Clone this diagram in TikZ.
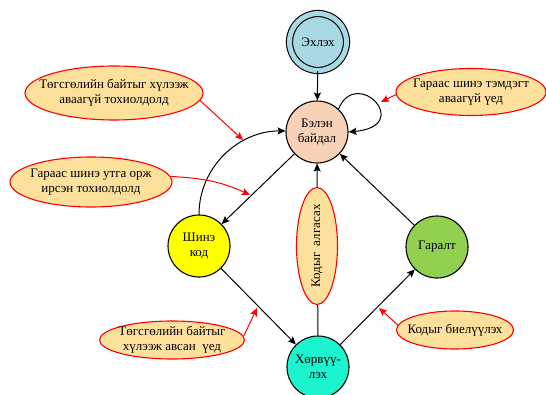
\documentclass[tikz,border=0pt]{standalone}
\usepackage{fontspec}
\setmainfont{Liberation Serif}
\usetikzlibrary{arrows.meta,shapes.geometric}

\definecolor{startblue}{HTML}{A8D8E4}
\definecolor{readypeach}{HTML}{F8D2B6}
\definecolor{newyellow}{HTML}{FFFF00}
\definecolor{convcyan}{HTML}{1CF4CF}
\definecolor{outgreen}{HTML}{92D050}
\definecolor{notefill}{HTML}{FDE09C}

\tikzset{
  statenode/.style={circle, draw=black, line width=1.1pt, minimum size=62pt,
    inner sep=0pt, align=center, font=\fontsize{13}{15}\selectfont},
  noteshape/.style={ellipse, draw=red, line width=1.1pt, fill=notefill, inner sep=0pt},
  notetext/.style={align=center, inner sep=0pt, font=\fontsize{13}{15}\selectfont},
  flow/.style={-{Stealth[length=8pt,width=7pt,inset=1.5pt]}, line width=1pt, black},
  cue/.style={-{Stealth[length=8pt,width=7pt,inset=1.5pt]}, line width=1pt, red},
}

\begin{document}
\begin{tikzpicture}[x=1pt,y=1pt]
  \useasboundingbox (0,0) rectangle (546,394);

  % states
  \node[statenode, fill=startblue, double=startblue, double distance=5pt,
        minimum size=57pt] (start) at (318,352) {Эхлэх};
  \node[statenode, fill=readypeach] (belen) at (317,262) {Бэлэн\\байдал};
  \node[statenode, fill=newyellow] (shine) at (199,148) {Шинэ\\код};
  \node[statenode, fill=convcyan] (horvuu) at (318,27) {Хөрвүү-\\лэх};
  \node[statenode, fill=outgreen] (garalt) at (437,147) {Гаралт};

  % transitions
  \draw[flow] (start) -- (belen);
  \draw[flow] (belen) -- (shine);
  \draw[flow] (shine.north) to[out=90,in=180] (belen.178);
  \draw[flow] (shine) -- (horvuu);
  \draw[flow] (horvuu) -- (garalt);
  \draw[flow] (garalt) -- (belen);
  \draw[flow] (horvuu) -- (belen);
  \draw[flow] (belen.47) .. controls +(18,43) and +(66,6) .. (belen.0);

  % condition notes
  \node[noteshape, minimum width=178pt, minimum height=54pt] (c1) at (114,301) {};
  \node[notetext] (c1t) at (c1) {Төгсгөлийн байтыг хүлээж\\аваагүй тохиолдолд};
  \node[noteshape, minimum width=162pt, minimum height=50pt] (c2) at (91,212) {};
  \node[notetext] (c2t) at (c2) {Гараас шинэ утга орж\\ирсэн тохиолдолд};
  \node[noteshape, minimum width=150pt, minimum height=47pt] (c3) at (471,302) {};
  \node[notetext] (c3t) at (c3) {Гараас шинэ тэмдэгт\\аваагүй үед};
  \node[noteshape, minimum width=41pt, minimum height=117pt] (c4) at (317,148) {};
  \node[notetext, rotate=90] (c4t) at (c4) {Кодыг\ \ алгасах};
  \node[noteshape, minimum width=117pt, minimum height=38pt] (c5) at (455,64) {};
  \node[notetext] (c5t) at (c5) {Кодыг биелүүлэх};
  \node[noteshape, minimum width=145pt, minimum height=38pt] (c6) at (172,54) {};
  \node[notetext] (c6t) at (c6) {Төгсгөлийн байтыг\\хүлээж авсан\ \ үед};

  % where each note points
  \coordinate (p1) at (243,254);
  \coordinate (p2) at (250,199);
  \coordinate (p3) at (381,292);
  \coordinate (p5) at (379,86);
  \coordinate (p6) at (257,86);

  \draw[cue] (c1.-5) -- (p1);
  \draw[cue] (c2.4) to[out=-3,in=155] (p2);
  \draw[cue] (c3.182) -- (p3);
  \draw[cue] (c5.175) -- (p5);
  \draw[cue] (c6.3) -- (p6);
\end{tikzpicture}
\end{document}
